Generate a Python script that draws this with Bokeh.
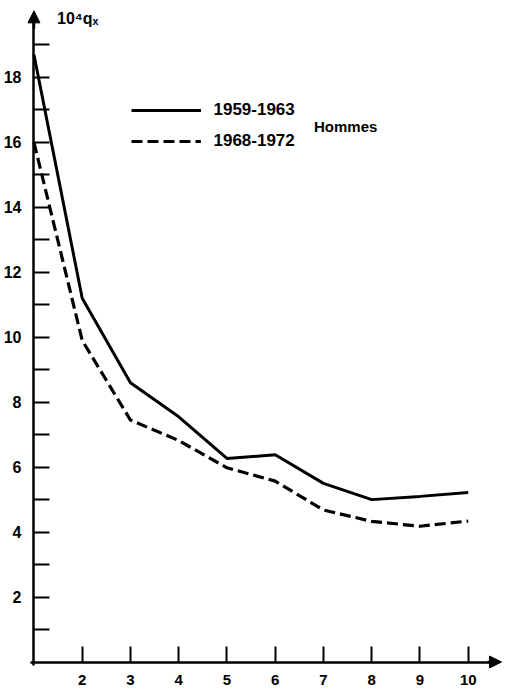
from bokeh.plotting import figure
from bokeh.models import (FixedTicker, Range1d, Arrow, NormalHead, Label, Legend, LegendItem,
                          LinearAxis)
from bokeh.embed import file_html
from bokeh.resources import INLINE

# Data (x = age, 10^4 q_x)
ages = [1, 2, 3, 4, 5, 6, 7, 8, 9, 10]
q_1959_1963 = [18.7, 11.2, 8.6, 7.55, 6.27, 6.38, 5.5, 5.0, 5.1, 5.22]
q_1968_1972 = [16.0, 9.9, 7.45, 6.82, 5.98, 5.57, 4.68, 4.33, 4.18, 4.34]

x_ticks = [2, 3, 4, 5, 6, 7, 8, 9, 10]
y_major = [2, 4, 6, 8, 10, 12, 14, 16, 18]
y_minor = [1, 3, 5, 7, 9, 11, 13, 15, 17, 19]
series_labels = ["1959-1963", "1968-1972"]
group_label = "Hommes"
y_title = "10⁴qₓ"
x_title = "x"

FONT = "Liberation Sans"
PXX = 48.4   # px per x unit
PXY = 32.5   # px per y unit
X0 = 0.866   # x range start (axis line sits at x=1)
Y0 = -0.2    # y range start (axis line sits at y=0)
left = 32 - (1 - X0) * PXX
bottom_px = 662 + (0 - Y0) * PXY

p = figure(width=509, height=691, output_backend="svg", toolbar_location=None,
           x_range=Range1d(X0, X0 + (509 - left) / PXX),
           y_range=Range1d(Y0, Y0 + bottom_px / PXY))
p.min_border_left = int(round(left))
p.min_border_right = 0
p.min_border_top = 0
p.min_border_bottom = 691 - int(round(bottom_px))
p.outline_line_color = None
p.grid.visible = False
p.background_fill_color = "white"
p.border_fill_color = "white"

# frame-edge axes: labels only
xa = p.xaxis[0]
xa.ticker = FixedTicker(ticks=x_ticks)
xa.axis_line_color = None
xa.major_tick_line_color = None
xa.minor_tick_line_color = None
xa.major_label_standoff = 0
xa.major_label_text_font = FONT
xa.major_label_text_font_style = "bold"
xa.major_label_text_font_size = "15px"
xa.major_label_text_color = "black"

ya = p.yaxis[0]
ya.ticker = FixedTicker(ticks=y_major)
ya.axis_line_color = None
ya.major_tick_line_color = None
ya.minor_tick_line_color = None
ya.major_label_standoff = 0
ya.major_label_text_font = FONT
ya.major_label_text_font_style = "bold"
ya.major_label_text_font_size = "16px"
ya.major_label_text_color = "black"

# axis lines and ticks at x=1 / y=0 (their labels are not drawn)
xline = LinearAxis(fixed_location=0, ticker=FixedTicker(ticks=x_ticks), bounds=(0.93, 10.6),
                   axis_line_width=2.5, axis_line_color="black",
                   major_tick_in=16, major_tick_out=0, major_tick_line_width=2,
                   minor_tick_line_color=None, major_label_standoff=0,
                   major_label_text_font_size="1px", major_label_text_color=None)
p.add_layout(xline, "below")
yline = LinearAxis(fixed_location=1, ticker=FixedTicker(ticks=y_major, minor_ticks=y_minor),
                   bounds=(-0.1, 19.8), axis_line_width=2.5, axis_line_color="black",
                   major_tick_in=16, major_tick_out=0, major_tick_line_width=2,
                   minor_tick_in=16, minor_tick_out=0, minor_tick_line_width=2,
                   minor_tick_line_color="black", major_label_standoff=0,
                   major_label_text_font_size="1px", major_label_text_color=None)
p.add_layout(yline, "left")

r1 = p.line(ages, q_1959_1963, line_color="black", line_width=3)
r2 = p.line(ages, q_1968_1972, line_color="black", line_width=3.2, line_dash="11 5")

# axis arrows
p.add_layout(Arrow(x_start=10.4, y_start=0, x_end=10.69, y_end=0, line_width=2.5,
                   end=NormalHead(size=12, fill_color="black", line_color="black")))
p.add_layout(Arrow(x_start=1, y_start=19.5, x_end=1, y_end=20.05, line_width=2.5,
                   end=NormalHead(size=12, fill_color="black", line_color="black")))

# screen coordinates of annotations are relative to the frame's bottom-left
fl, fb = left, bottom_px

legend = Legend(items=[LegendItem(label=series_labels[0], renderers=[r1]),
                       LegendItem(label=series_labels[1], renderers=[r2])],
                location=(130 - fl, fb - 151), glyph_width=70, glyph_height=20,
                label_height=20, spacing=11, label_standoff=12, padding=0, margin=0,
                border_line_color=None, background_fill_alpha=0,
                label_text_font=FONT, label_text_font_style="bold",
                label_text_font_size="17px", label_text_color="black")
p.add_layout(legend)

p.add_layout(Label(x=312 - fl, y=fb - 126, x_units="screen", y_units="screen", text=group_label,
                   text_font=FONT, text_font_style="bold", text_font_size="15px",
                   text_baseline="middle", text_color="black"))
p.add_layout(Label(x=55 - fl, y=fb - 18, x_units="screen", y_units="screen", text=y_title,
                   text_font=FONT, text_font_style="bold", text_font_size="16px",
                   text_baseline="middle", text_color="black"))
p.add_layout(Label(x=499 - fl, y=fb - 679, x_units="screen", y_units="screen", text=x_title,
                   text_font=FONT, text_font_style="bold italic", text_font_size="16px",
                   text_baseline="middle", text_color="black"))

open("out.html", "w").write(file_html(p, INLINE))
